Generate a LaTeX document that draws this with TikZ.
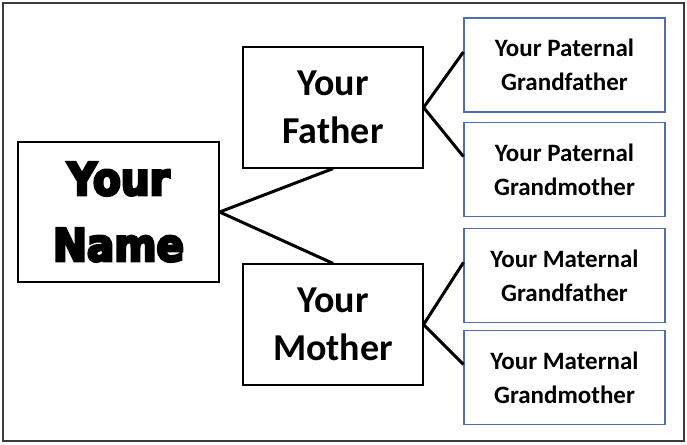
\documentclass[tikz,border=0pt]{standalone}
\usepackage{fontspec}
\setmainfont{Carlito}
\newfontfamily\heavyfont[FakeBold=6,FakeStretch=0.9]{DejaVu Sans}
\usepackage{tikz}
\definecolor{boxblue}{RGB}{79,110,175}
\definecolor{framegray}{RGB}{60,60,60}

\begin{document}
\begin{tikzpicture}[x=1pt, y=-1pt,
		me/.style = {draw=black, line width=1.2pt, minimum width=201pt, minimum height=140pt, align=center, inner sep=0pt, font=\heavyfont\bfseries\fontsize{45}{66}\selectfont},
		parent/.style = {draw=black, line width=1.2pt, minimum width=180pt, minimum height=121pt, align=center, inner sep=0pt, font=\bfseries\fontsize{38}{48}\selectfont},
		grand/.style = {draw=boxblue, line width=1.2pt, minimum width=201pt, minimum height=94pt, align=center, inner sep=0pt, font=\bfseries\fontsize{25}{34}\selectfont},
		link/.style = {draw=black, line width=3pt}]
		\useasboundingbox (0,0) rectangle (687,444);
		\draw[framegray, line width=2pt] (3,3) rectangle (684,441);
		\node (name) [me]  at (118.5,212) {Your\\Name};
		\node (father) [parent]  at (333,107.5) {Your\\Father};
		\node (mother) [parent]  at (333,324.5) {Your\\Mother};
		\node (pgf) [grand]  at (564.5,65) {Your Paternal\\Grandfather};
		\node (pgm) [grand]  at (564.5,169.5) {Your Paternal\\Grandmother};
		\node (mgf) [grand]  at (564.5,275.5) {Your Maternal\\Grandfather};
		\node (mgm) [grand]  at (564.5,377.5) {Your Maternal\\Grandmother};
		\draw[link]  (name.east) -- (father.south);
		\draw[link]  (name.east) -- (mother.north);
		\draw[link]  (father.east) -- ([yshift=13pt]pgf.west);
		\draw[link]  (father.east) -- ([yshift=13pt]pgm.west);
		\draw[link]  (mother.east) -- ([yshift=13pt]mgf.west);
		\draw[link]  (mother.east) -- ([yshift=13pt]mgm.west);
	\end{tikzpicture}
\end{document}
